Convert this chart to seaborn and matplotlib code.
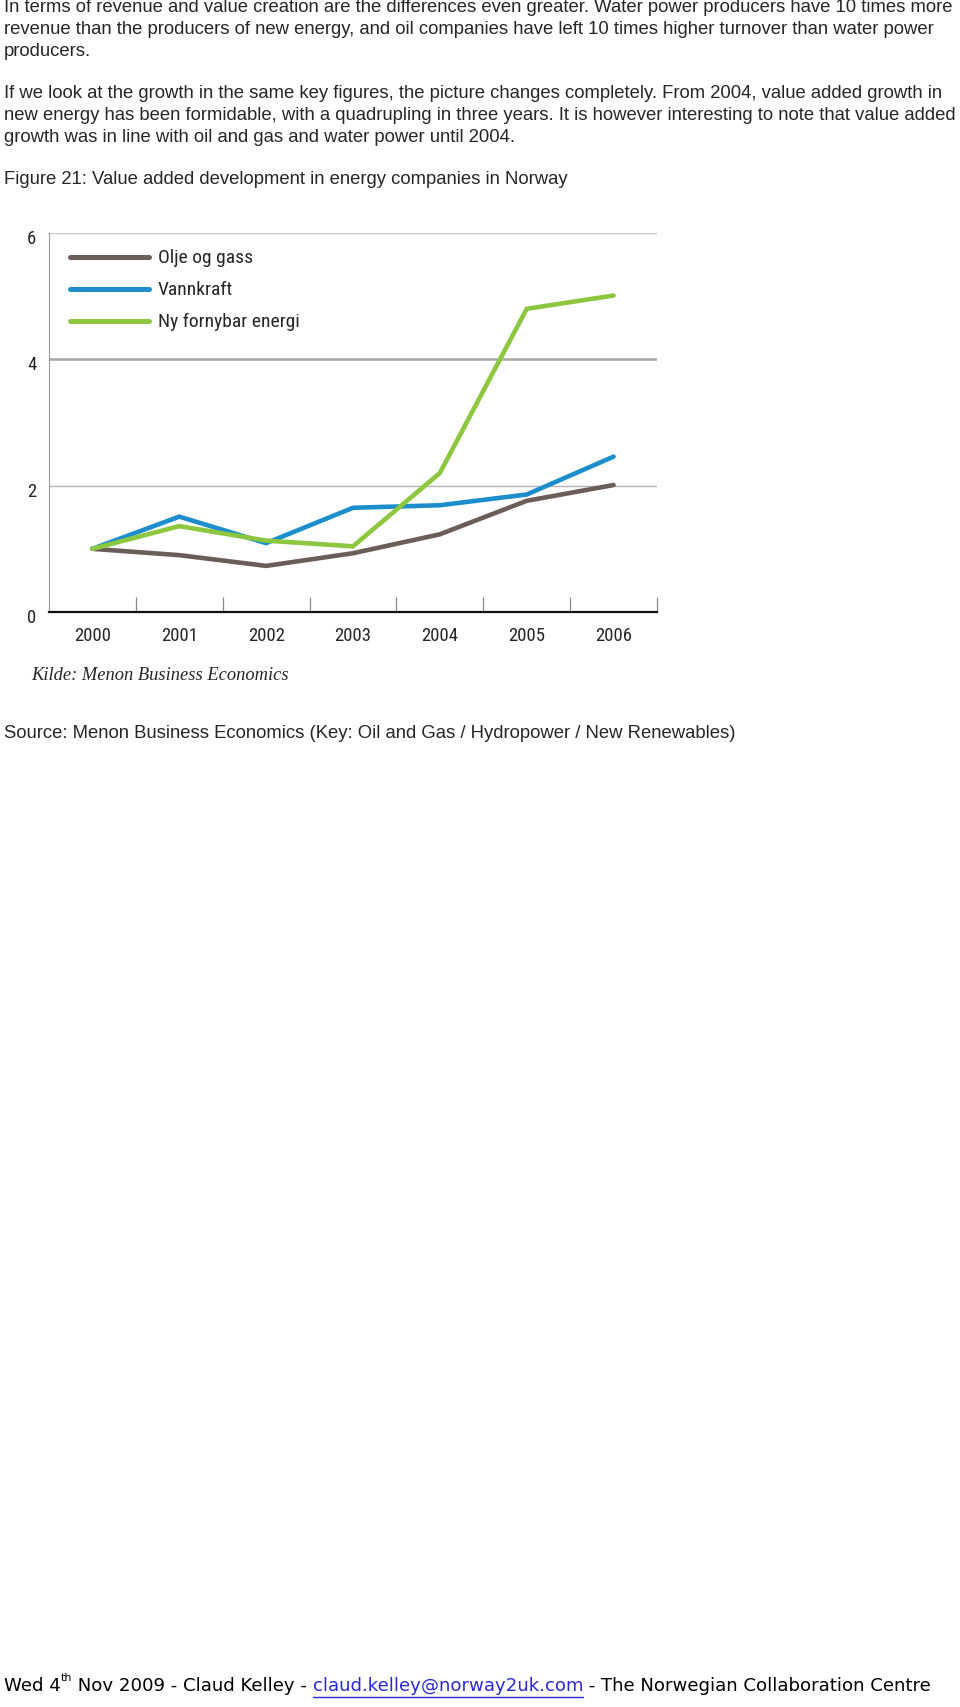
import numpy as np
import pandas as pd
import seaborn as sns
import matplotlib.pyplot as plt
import matplotlib.transforms as mtransforms
from matplotlib import font_manager

# Values (index, 2000 = 1)
years = [2000, 2001, 2002, 2003, 2004, 2005, 2006]
olje_og_gass = [1.0, 0.90, 0.73, 0.93, 1.23, 1.76, 2.01]
vannkraft = [1.0, 1.51, 1.09, 1.65, 1.69, 1.86, 2.46]
ny_fornybar = [1.0, 1.36, 1.13, 1.04, 2.20, 4.80, 5.01]
series_names = ['Olje og gass', 'Vannkraft', 'Ny fornybar energi']
series_colors = ['#6b5d59', '#1b8ecb', '#8dc63f']
y_ticks = [0, 2, 4, 6]

para1 = ["In terms of revenue and value creation are the differences even greater. Water power producers have 10 times more",
         "revenue than the producers of new energy, and oil companies have left 10 times higher turnover than water power",
         "producers."]
para2 = ["If we look at the growth in the same key figures, the picture changes completely. From 2004, value added growth in",
         "new energy has been formidable, with a quadrupling in three years. It is however interesting to note that value added",
         "growth was in line with oil and gas and water power until 2004."]
fig_title = "Figure 21: Value added development in energy companies in Norway"
kilde = "Kilde: Menon Business Economics"
source = "Source: Menon Business Economics (Key: Oil and Gas / Hydropower / New Renewables)"

data = pd.DataFrame({
    'year': years * 3,
    'value': olje_og_gass + vannkraft + ny_fornybar,
    'series': [n for n in series_names for _ in years],
})

sns.set_style("white")
plt.rcParams['font.family'] = ['Liberation Sans', 'DejaVu Sans']

# condensed face for the chart labels, if one is installed
names = {f.name for f in font_manager.fontManager.ttflist}
cond_stretch = 'normal'
narrow = ['Liberation Sans', 'DejaVu Sans']
for cand in ['Liberation Sans Narrow', 'Roboto Condensed', 'Open Sans Condensed', 'DejaVu Sans']:
    if cand in names:
        narrow = [cand, 'DejaVu Sans']
        if cand == 'DejaVu Sans':
            cond_stretch = 'condensed'
        break

W, H = 960, 1707
fig = plt.figure(figsize=(W / 100, H / 100), dpi=100)
fig.patch.set_facecolor('white')

def fy(py):
    return 1 - py / H

body_size = 13.3
for i, line in enumerate(para1):
    fig.text(4 / W, fy(8 + i * 21.7), line, fontsize=body_size, va='center', ha='left')
for i, line in enumerate(para2):
    fig.text(4 / W, fy(94 + i * 21.7), line, fontsize=body_size, va='center', ha='left')
fig.text(4 / W, fy(179), fig_title, fontsize=body_size, va='center', ha='left')

# chart
ax_l, ax_r, ax_t, ax_b = 49, 657, 233, 612
ax = fig.add_axes([ax_l / W, fy(ax_b), (ax_r - ax_l) / W, (ax_b - ax_t) / H])
sns.lineplot(data=data, x='year', y='value', hue='series', hue_order=series_names,
             palette=series_colors, linewidth=3.3, ax=ax, solid_capstyle='round',
             solid_joinstyle='miter', zorder=3)

ax.set_xlim(1999.5, 2006.5)
ax.set_ylim(0, 6)
ax.set_xlabel('')
ax.set_ylabel('')
ax.axhline(6, color='#c8c8c8', lw=1.0, zorder=1)
ax.axhline(4, color='#a8a8a8', lw=1.8, zorder=1)
ax.axhline(2, color='#b4b4b4', lw=1.0, zorder=1)

for s in ['top', 'right']:
    ax.spines[s].set_visible(False)
ax.spines['left'].set_color('#9a9a9a')
ax.spines['left'].set_linewidth(0.8)
ax.spines['bottom'].set_color('#111111')
ax.spines['bottom'].set_linewidth(1.6)

lab_font = {'family': narrow, 'stretch': cond_stretch, 'size': 13.5}
ax.set_xticks(years)
ax.set_xticklabels([str(y) for y in years], fontdict=lab_font)
ax.set_xticks([y + 0.5 for y in years], minor=True)
ax.tick_params(axis='x', which='both', bottom=True)
ax.tick_params(axis='x', which='major', length=0, pad=11)
ax.tick_params(axis='x', which='minor', length=11, width=0.9, color='#8a8a8a', direction='in')
ax.set_yticks(y_ticks)
ax.set_yticklabels([str(t) for t in y_ticks], fontdict=lab_font)
ax.tick_params(axis='y', length=0, pad=9)
offset = mtransforms.ScaledTranslation(0, -4 / 100, fig.dpi_scale_trans)
for lab in ax.get_yticklabels():
    lab.set_transform(lab.get_transform() + offset)

leg = ax.legend(loc='upper left', bbox_to_anchor=(0.005, 1.003), frameon=False,
                handlelength=4.1, handletextpad=0.45, labelspacing=0.72,
                prop={'family': narrow, 'stretch': cond_stretch, 'size': 14})
for h in leg.get_lines():
    h.set_linewidth(3.6)
    h.set_solid_capstyle('round')

# notes under chart
fig.text(31 / W, fy(676), kilde, fontsize=13.3, va='center', ha='left',
         family=['Liberation Serif', 'DejaVu Serif'], style='italic')
fig.text(4 / W, fy(734), source, fontsize=body_size, va='center', ha='left')

# footer built piece by piece
renderer = fig.canvas.get_renderer()
foot_y = fy(1686)
pieces = [("Wed 4", {}), ("th", {'sup': True}), (" Nov 2009 - Claud Kelley - ", {}),
          ("claud.kelley@norway2uk.com", {'link': True}),
          (" - The Norwegian Collaboration Centre", {})]
x = 4 / W
for txt, opt in pieces:
    size = 8 if opt.get('sup') else 13.05
    yy = foot_y + (8 / H if opt.get('sup') else 0)
    color = '#2a2ad0' if opt.get('link') else 'black'
    t = fig.text(x, yy, txt, fontsize=size, va='center', ha='left', color=color,
                 family=['DejaVu Sans'])
    bb = t.get_window_extent(renderer)
    if opt.get('link'):
        fig.add_artist(plt.Line2D([bb.x0 / W, bb.x1 / W], [fy(1697), fy(1697)],
                                  color=color, lw=1.0, transform=fig.transFigure))
    x = bb.x1 / W

fig.savefig('out.png', dpi=100)
